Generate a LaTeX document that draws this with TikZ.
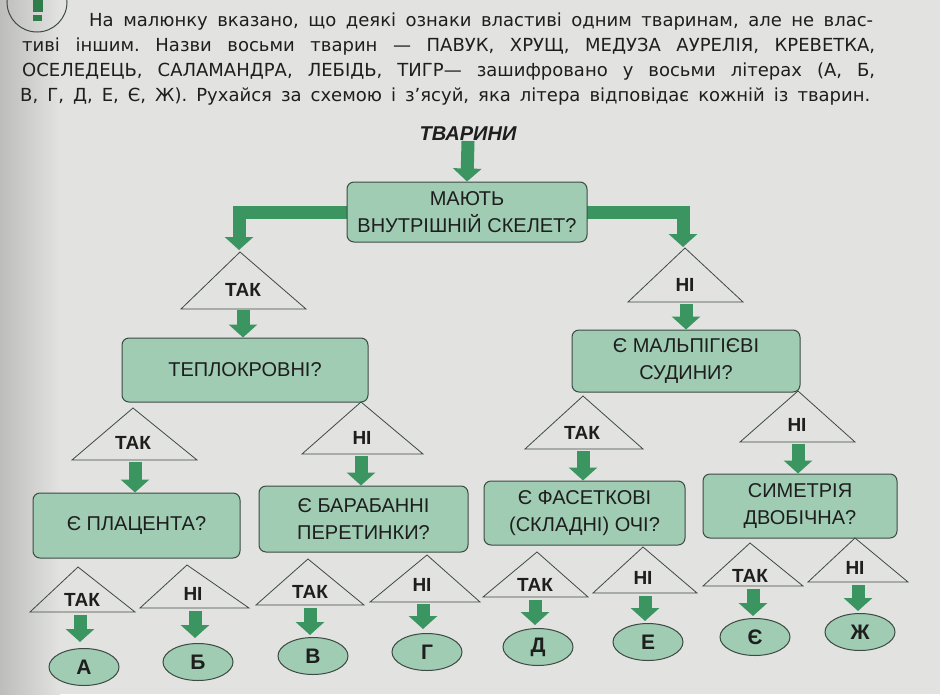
\documentclass[tikz,border=0pt]{standalone}
\usepackage{fontspec}
\setmainfont{Liberation Sans}
\newfontfamily\hdrfont{DejaVu Sans}
\frenchspacing
\usetikzlibrary{arrows.meta,shapes.geometric}
\definecolor{pagebg}{HTML}{E2E2E0}
\definecolor{pageshade}{HTML}{BDBDBB}
\definecolor{boxfill}{HTML}{9FCCB2}
\definecolor{agreen}{HTML}{3A9560}
\definecolor{dgreen}{HTML}{2E7D4A}
\definecolor{edge}{HTML}{3E4A44}
\definecolor{ink}{HTML}{1E1E1E}
\begin{document}
\begin{tikzpicture}[x=1pt,y=-1pt,
  qbox/.style={draw=edge, line width=1pt, fill=boxfill, rounded corners=7pt, align=center, text=ink,
    font=\fontsize{20}{27}\selectfont, inner sep=0pt},
  fat/.style={draw=agreen, line width=13pt, -{Triangle[width=28pt,length=13pt]}},
  trilbl/.style={font=\bfseries\fontsize{19}{20}\selectfont, text=ink, inner sep=0pt},
  triline/.style={draw=edge, line width=0.8pt, line join=miter},
  leaf/.style={ellipse, draw=edge, line width=1pt, fill=boxfill, minimum width=70pt, minimum height=37pt,
    inner sep=0pt, font=\bfseries\fontsize{21}{22}\selectfont, text=ink},
  hdr/.style={anchor=base west, inner sep=0pt, text=ink, font=\hdrfont\fontsize{18}{20}\selectfont}]
\useasboundingbox (0,0) rectangle (940,694);
\fill[pagebg] (0,0) rectangle (940,694);
\shade[left color=pageshade, right color=pagebg] (0,0) rectangle (60,694);

% exclamation mark badge
\draw[edge, line width=1pt] (37,2) circle (30pt);
\fill[dgreen] (33,-4) rectangle (43,12);
\fill[dgreen] (33,15) rectangle (42,21);

% header text
\node[hdr] (h1) at (89,26) {\makebox[784pt][s]{На малюнку вказано, що деякі ознаки властиві одним тваринам, але не влас-}};
\node[hdr] (h2) at (22,51) {\makebox[853pt][s]{тиві іншим. Назви восьми тварин — ПАВУК, ХРУЩ, МЕДУЗА АУРЕЛІЯ, КРЕВЕТКА,}};
\node[hdr] (h3) at (22,76) {\makebox[853pt][s]{ОСЕЛЕДЕЦЬ, САЛАМАНДРА, ЛЕБІДЬ, ТИГР— зашифровано у восьми літерах (А, Б,}};
\node[hdr] (h4) at (20,101) {\makebox[850pt][s]{В, Г, Д, Е, Є, Ж). Рухайся за схемою і з’ясуй, яка літера відповідає кожній із тварин.}};

% root
\node[font=\bfseries\itshape\fontsize{20}{22}\selectfont, text=ink, inner sep=0pt] (root) at (468,134) {ТВАРИНИ};

% first question box, with the side bands drawn under it
\path (467,212) coordinate (b1c);
\draw[fat, line join=miter] (b1c) -| (239,250);
\draw[fat, line join=miter] (b1c) -| (683,247);
\node[qbox, minimum width=240pt, minimum height=60pt] (b1) at (b1c) {МАЮТЬ\\ВНУТРІШНІЙ СКЕЛЕТ?};
\draw[fat] (root.south) -- (b1.north);

\node[qbox, minimum width=246pt, minimum height=64pt] (b2) at (245,370) {ТЕПЛОКРОВНІ?};
\node[qbox, minimum width=228pt, minimum height=62pt] (b3) at (686,361) {Є МАЛЬПІГІЄВІ\\СУДИНИ?};
\node[qbox, minimum width=207pt, minimum height=65pt] (b4) at (136.5,525.5) {Є ПЛАЦЕНТА?};
\node[qbox, minimum width=209pt, minimum height=66pt] (b5) at (363.5,519) {Є БАРАБАННІ\\ПЕРЕТИНКИ?};
\node[qbox, minimum width=201pt, minimum height=64pt] (b6) at (584.5,513) {Є ФАСЕТКОВІ\\(СКЛАДНІ) ОЧІ?};
\node[qbox, minimum width=194pt, minimum height=64pt] (b7) at (800,506) {СИМЕТРІЯ\\ДВОБІЧНА?};

% answer triangles
\foreach \n/\ax/\ay/\by/\lx/\rx/\tx/\ty/\lab in {
  ta/240/252/309/181/306/243/290/ТАК,
  tb/685/248/302/628/743/685/285/НІ,
  tc/133/408/460/72/197/133/443/ТАК,
  td/361/402/454/302/423/362/438/НІ,
  te/583/396/449/525/643/582/433/ТАК,
  tf/798/391/442/740/855/797/425/НІ,
  tg/78/567/612/30/135/82/600/ТАК,
  th/187/565/608/140/249/193/594/НІ,
  ti/308/559/605/256/364/310/592/ТАК,
  tj/427/555/602/370/480/422/585/НІ,
  tk/537/552/597/483/588/535/585/ТАК,
  tl/643/547/593/593/697/643/578/НІ,
  tm/750/543/586/703/803/750/576/ТАК,
  tn/855/538/582/808/908/855/568/НІ}
{
  \draw[triline] (\ax,\ay) -- (\rx,\by) -- (\lx,\by) -- cycle;
  \node[trilbl] (\n) at (\tx,\ty) {\lab};
}

% leaves
\node[leaf] (lA) at (84,667) {А};
\node[leaf] (lB) at (198,662) {Б};
\node[leaf] (lC) at (313,656) {В};
\node[leaf] (lD) at (427,652) {Г};
\node[leaf] (lE) at (538,647) {Д};
\node[leaf] (lF) at (648,642) {Е};
\node[leaf] (lG) at (755,637) {Є};
\node[leaf] (lH) at (860,632) {Ж};

% arrows from answers
\draw[fat] (243,310) -- (243,0 |- b2.north);
\draw[fat] (686,304) -- (686,0 |- b3.north);
\draw[fat] (135,462) -- (135,0 |- b4.north);
\draw[fat] (361,456) -- (361,0 |- b5.north);
\draw[fat] (583,451) -- (583,0 |- b6.north);
\draw[fat] (798,444) -- (798,0 |- b7.north);
\draw[fat] (80,615) -- (80,642);
\draw[fat] (195,611) -- (195,638);
\draw[fat] (310,608) -- (310,635);
\draw[fat] (423,604) -- (423,629);
\draw[fat] (535,600) -- (535,625);
\draw[fat] (645,596) -- (645,621);
\draw[fat] (753,589) -- (753,616);
\draw[fat] (858,585) -- (858,611);
\end{tikzpicture}
\end{document}
